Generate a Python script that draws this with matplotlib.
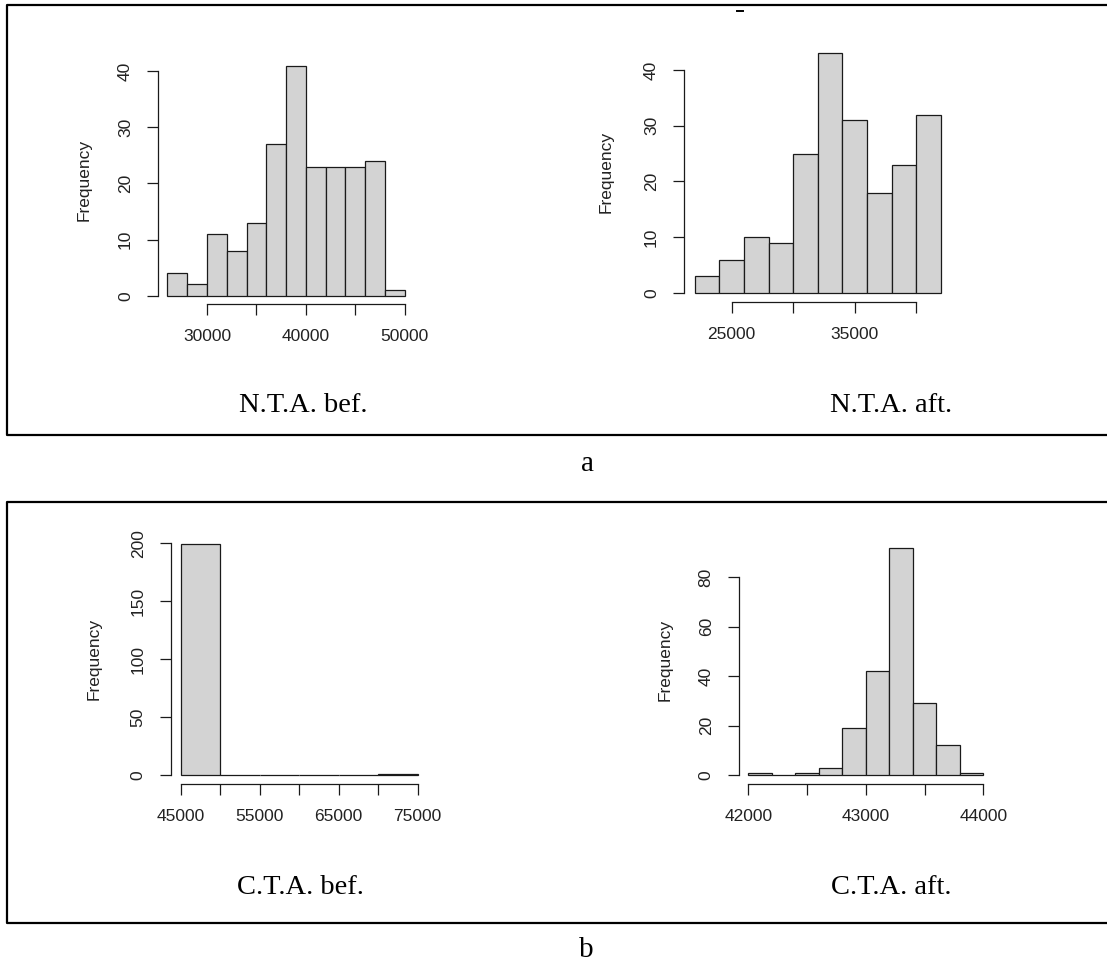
import matplotlib
matplotlib.use("Agg")
import matplotlib.pyplot as plt
from matplotlib.lines import Line2D
import numpy as np

# ---- data (bin edges and counts, 200 obs each) ----
nta_bef_edges = [26000, 28000, 30000, 32000, 34000, 36000, 38000, 40000,
                 42000, 44000, 46000, 48000, 50000]
nta_bef_counts = [4, 2, 11, 8, 13, 27, 41, 23, 23, 23, 24, 1]

nta_aft_edges = [22000, 24000, 26000, 28000, 30000, 32000, 34000, 36000,
                 38000, 40000, 42000]
nta_aft_counts = [3, 6, 10, 9, 25, 43, 31, 18, 23, 32]

cta_bef_edges = [45000, 50000, 55000, 60000, 65000, 70000, 75000]
cta_bef_counts = [199, 0, 0, 0, 0, 1]

cta_aft_edges = [42000, 42200, 42400, 42600, 42800, 43000, 43200, 43400,
                 43600, 43800, 44000]
cta_aft_counts = [1, 0, 1, 3, 19, 42, 92, 29, 12, 1]

nta_bef_xticks = [30000, 35000, 40000, 45000, 50000]
nta_bef_xlabels = ["30000", "", "40000", "", "50000"]
nta_aft_xticks = [25000, 30000, 35000, 40000]
nta_aft_xlabels = ["25000", "", "35000", ""]
cta_bef_xticks = [45000, 50000, 55000, 60000, 65000, 70000, 75000]
cta_bef_xlabels = ["45000", "", "55000", "", "65000", "", "75000"]
cta_aft_xticks = [42000, 42500, 43000, 43500, 44000]
cta_aft_xlabels = ["42000", "", "43000", "", "44000"]

nta_yticks = [0, 10, 20, 30, 40]
cta_bef_yticks = [0, 50, 100, 150, 200]
cta_aft_yticks = [0, 20, 40, 60, 80]

titles = ["N.T.A. bef.", "N.T.A. aft.", "C.T.A. bef.", "C.T.A. aft."]
panel_tags = ["a", "b"]

W, H = 1107, 961
fig = plt.figure(figsize=(W / 100, H / 100), dpi=100)
fig.patch.set_facecolor("white")

TXT = "#222222"
SANS = "Liberation Sans"
SERIF = "Liberation Serif"


def place(ax, xcal, ycal, left_px, bottom_py, xmax, ymax):
    # map data values to pixel positions measured on the reference
    (pa, va), (pb, vb) = xcal
    sx = (pb - pa) / (vb - va)
    xmin = va + (left_px - pa) / sx
    right_px = pa + (xmax - va) * sx
    (qa, ua), (qb, ub) = ycal
    sy = (qb - qa) / (ub - ua)
    ymin = ua + (bottom_py - qa) / sy
    top_py = qa + (ymax - ua) * sy
    ax.set_position([left_px / W, 1 - bottom_py / H,
                     (right_px - left_px) / W, (bottom_py - top_py) / H])
    ax.set_xlim(xmin, xmax)
    ax.set_ylim(ymin, ymax)


def r_hist(ax, edges, counts, xticks, xlabels, yticks):
    edges = np.asarray(edges)
    ax.bar(edges[:-1], counts, width=np.diff(edges), align="edge",
           color="#D3D3D3", edgecolor="#1a1a1a", linewidth=0.9)
    for s in ["top", "right"]:
        ax.spines[s].set_visible(False)
    for s in ["left", "bottom"]:
        ax.spines[s].set_linewidth(0.9)
        ax.spines[s].set_color("#1a1a1a")
    ax.spines["bottom"].set_bounds(xticks[0], xticks[-1])
    ax.spines["left"].set_bounds(yticks[0], yticks[-1])
    ax.set_xticks(xticks)
    ax.set_xticklabels(xlabels)
    ax.set_yticks(yticks)
    ax.set_yticklabels([str(t) for t in yticks])
    ax.tick_params(direction="out", length=8, width=0.9, color="#1a1a1a",
                   labelsize=12.5, labelcolor=TXT, pad=10)
    ax.tick_params(axis="y", labelrotation=90)
    for lab in ax.get_yticklabels():
        lab.set_va("center")
        lab.set_fontfamily(SANS)
    for lab in ax.get_xticklabels():
        lab.set_fontfamily(SANS)
    ax.patch.set_alpha(0)


ax1 = fig.add_axes([0, 0, 1, 1])
r_hist(ax1, nta_bef_edges, nta_bef_counts, nta_bef_xticks, nta_bef_xlabels, nta_yticks)
place(ax1, ((207, 30000), (404.7, 50000)), ((295.7, 0), (71.3, 40)), 158, 304.3, 51000, 42)

ax2 = fig.add_axes([0, 0, 1, 1])
r_hist(ax2, nta_aft_edges, nta_aft_counts, nta_aft_xticks, nta_aft_xlabels, nta_yticks)
place(ax2, ((731.7, 25000), (916.3, 40000)), ((293, 0), (70, 40)), 684, 302.3, 43000, 45)

ax3 = fig.add_axes([0, 0, 1, 1])
r_hist(ax3, cta_bef_edges, cta_bef_counts, cta_bef_xticks, cta_bef_xlabels, cta_bef_yticks)
place(ax3, ((180.7, 45000), (417.7, 75000)), ((775, 0), (543.3, 200)), 170.7, 784, 76000, 205)

ax4 = fig.add_axes([0, 0, 1, 1])
r_hist(ax4, cta_aft_edges, cta_aft_counts, cta_aft_xticks, cta_aft_xlabels, cta_aft_yticks)
place(ax4, ((748.3, 42000), (983.3, 44000)), ((775, 0), (577.3, 80)), 738.7, 784, 44100, 95)


def ftext(xp, yp, s, **kw):
    fig.text(xp / W, 1 - yp / H, s, **kw)


# y-axis labels
for (xp, yp) in [(84, 180), (606, 172), (94, 659), (665, 660)]:
    ftext(xp, yp, "Frequency", rotation=90, ha="center", va="center",
          fontsize=12.5, color=TXT, family=SANS)

# panel titles under each histogram
for (xp, yp), t in zip([(303, 412), (891, 412), (300, 894), (891, 894)], titles):
    ftext(xp, yp, t, ha="center", va="baseline", fontsize=20.5,
          color="black", family=SERIF)

# panel letters
ftext(588, 471, panel_tags[0], ha="center", va="baseline", fontsize=21,
      color="black", family=SERIF)
ftext(586, 957, panel_tags[1], ha="center", va="baseline", fontsize=21,
      color="black", family=SERIF)

# open frames around the two panels (no right edge)
def px_line(xs, ys, lw=1.6):
    fig.add_artist(Line2D([x / W for x in xs], [1 - y / H for y in ys],
                          color="black", linewidth=lw,
                          solid_capstyle="projecting"))

px_line([W + 5, 7, 7, W + 5], [5, 5, 435, 435])
px_line([W + 5, 7, 7, W + 5], [502, 502, 923, 923])
# small clipped remnant at the top
px_line([737, 743], [10.5, 10.5], lw=1.4)

fig.savefig("out.png", dpi=100)
